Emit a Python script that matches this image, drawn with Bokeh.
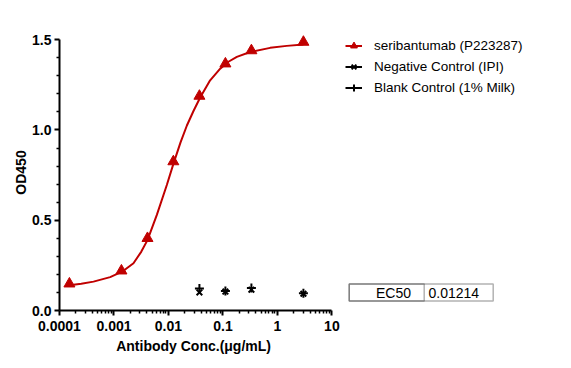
from bokeh.plotting import figure
from bokeh.models import Range1d, FixedTicker, Legend, LegendItem, BoxAnnotation, Label, Title
from bokeh.embed import file_html
from bokeh.resources import INLINE

# ---------------- data ----------------
conc = [0.000152, 0.00137, 0.00412, 0.0123, 0.037, 0.111, 0.333, 3.0]
od_serib = [0.148, 0.220, 0.400, 0.825, 1.188, 1.367, 1.440, 1.487]

fit_conc = [0.000152, 0.000251, 0.000421, 0.000851, 0.00141, 0.00228, 0.00316,
            0.00412, 0.00612, 0.00933, 0.0124, 0.0166, 0.0218, 0.0288, 0.0382,
            0.0582, 0.0891, 0.126, 0.180, 0.316, 0.735, 1.486, 3.0]
fit_od = [0.140, 0.148, 0.160, 0.185, 0.215, 0.262, 0.325,
          0.390, 0.530, 0.695, 0.815, 0.930, 1.025, 1.105, 1.180,
          1.275, 1.340, 1.378, 1.405, 1.432, 1.455, 1.466, 1.474]

ctrl_conc = [0.037, 0.111, 0.333, 3.0]
neg_od = [0.100, 0.105, 0.115, 0.093]
blank_od = [0.122, 0.108, 0.124, 0.096]

series_names = ["seribantumab (P223287)", "Negative Control (IPI)", "Blank Control (1% Milk)"]

x_tick_values = [0.0001, 0.001, 0.01, 0.1, 1.0, 10.0]
x_tick_labels = ["0.0001", "0.001", "0.01", "0.1", "1", "10"]
y_tick_values = [0.0, 0.5, 1.0, 1.5]
y_tick_labels = ["0.0", "0.5", "1.0", "1.5"]

ec50_name = "EC50"
ec50_value = "0.01214"

x_title = "Antibody Conc.(\u03bcg/mL)"
y_title = "OD450"

# ---------------- layout / style ----------------
RED = "#C00000"
FONT = "Liberation Sans"
NAN = float("nan")

PX_PER_DECADE = 54.48      # axis length per decade on the x axis
FRAME_W = 496              # frame extends right to hold legend and table
FRAME_H = 276
x_start = x_tick_values[0]
x_end = x_start * 10 ** (FRAME_W / PX_PER_DECADE)

p = figure(frame_width=FRAME_W, frame_height=FRAME_H, x_axis_type="log",
           x_range=Range1d(x_start, x_end), y_range=Range1d(0, 1.529),
           output_backend="svg", toolbar_location=None,
           min_border_left=59, min_border_right=4,
           min_border_top=34, min_border_bottom=10)
p.outline_line_color = None
p.xgrid.visible = False
p.ygrid.visible = False

x_minor = [m * 10.0 ** k for k in range(-4, 1) for m in range(2, 10)]
y_minor = [i / 10 for i in range(1, 15) if i % 5 != 0]

p.xaxis.ticker = FixedTicker(ticks=x_tick_values, minor_ticks=x_minor)
p.xaxis.major_label_overrides = dict(zip(x_tick_values, x_tick_labels))
p.xaxis.bounds = (x_tick_values[0], x_tick_values[-1])
p.yaxis.ticker = FixedTicker(ticks=y_tick_values, minor_ticks=y_minor)
p.yaxis.major_label_overrides = dict(zip(y_tick_values, y_tick_labels))
p.yaxis.bounds = (y_tick_values[0], y_tick_values[-1])

for ax in (p.xaxis, p.yaxis):
    ax.axis_line_width = 2
    ax.axis_line_color = "black"
    ax.major_tick_line_width = 2
    ax.minor_tick_line_width = 1.5
    ax.major_tick_line_color = "black"
    ax.minor_tick_line_color = "black"
    ax.major_tick_in = 0
    ax.minor_tick_in = 0
    ax.major_tick_out = 5
    ax.minor_tick_out = 3
    ax.major_label_text_font = FONT
    ax.major_label_text_font_style = "bold"
    ax.major_label_text_font_size = "14px"
    ax.major_label_text_color = "black"
    ax.axis_label_text_font = FONT
    ax.axis_label_text_font_style = "bold"
    ax.axis_label_text_font_size = "14px"
    ax.axis_label_text_color = "black"

p.yaxis.axis_label = y_title
p.xaxis.major_label_standoff = 5
p.yaxis.major_label_standoff = 3
p.yaxis.axis_label_standoff = 0

# x-axis title placed under the bounded axis (not centred on the wider frame)
p.add_layout(Title(text=x_title, align="left", offset=56.7,
                   text_font=FONT, text_font_style="bold", text_font_size="14px",
                   text_color="black", standoff=4), "below")

r_fit = p.line(fit_conc, fit_od, line_color=RED, line_width=2)
r_pts = p.scatter(conc, od_serib, marker="triangle", size=11, color=RED)
r_neg = p.scatter(ctrl_conc, neg_od, marker="x", size=8, line_color="black", line_width=2)
r_blank = p.scatter(ctrl_conc, blank_od, marker="cross", size=9, line_color="black", line_width=2)
# legend-only connector lines for the control series (nothing drawn on the plot)
r_neg_line = p.line([NAN], [NAN], line_color="black", line_width=2)
r_blank_line = p.line([NAN], [NAN], line_color="black", line_width=2)

legend = Legend(items=[
    LegendItem(label=series_names[0], renderers=[r_fit, r_pts]),
    LegendItem(label=series_names[1], renderers=[r_neg_line, r_neg]),
    LegendItem(label=series_names[2], renderers=[r_blank_line, r_blank]),
], location=(286, 214.5))
legend.border_line_color = None
legend.background_fill_alpha = 0
legend.padding = 0
legend.margin = 0
legend.glyph_width = 17
legend.glyph_height = 17
legend.label_height = 17
legend.spacing = 4
legend.label_standoff = 12
legend.label_text_font = FONT
legend.label_text_font_size = "13.5px"
legend.label_text_color = "black"
p.add_layout(legend)

# EC50 table (screen units relative to the frame)
box_all = BoxAnnotation(left=289.7, right=433.7, bottom=9.5, top=26.5,
                        left_units="screen", right_units="screen",
                        bottom_units="screen", top_units="screen",
                        fill_color="white", fill_alpha=1,
                        line_color="black", line_width=1.5)
box_div = BoxAnnotation(left=289.7, right=364.7, bottom=9.5, top=26.5,
                        left_units="screen", right_units="screen",
                        bottom_units="screen", top_units="screen",
                        fill_alpha=0, line_color="black", line_width=1.5)
p.add_layout(box_all)
p.add_layout(box_div)
p.add_layout(Label(x=351.5, y=18, x_units="screen", y_units="screen", text=ec50_name,
                   text_align="right", text_baseline="middle",
                   text_font=FONT, text_font_size="14px", text_color="black"))
p.add_layout(Label(x=369, y=18, x_units="screen", y_units="screen", text=ec50_value,
                   text_align="left", text_baseline="middle",
                   text_font=FONT, text_font_size="14px", text_color="black"))

open("out.html", "w").write(file_html(p, INLINE))
